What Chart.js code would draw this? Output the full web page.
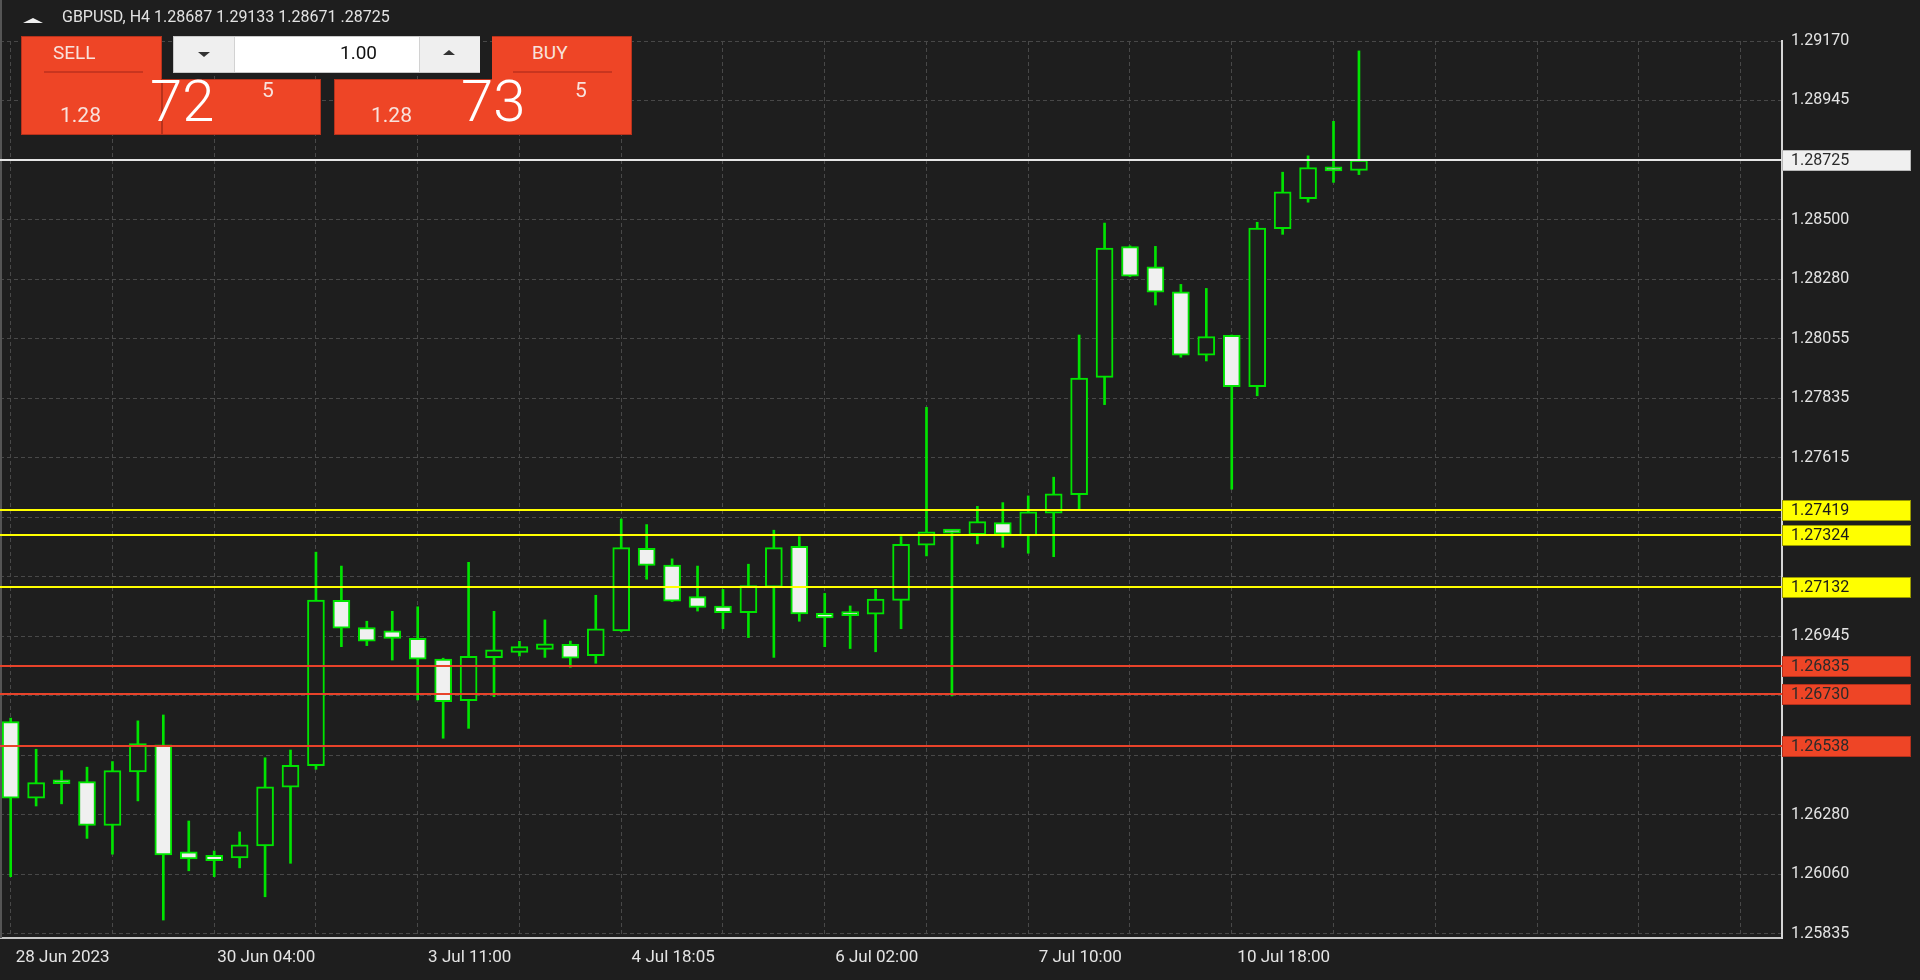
<!DOCTYPE html>
<html>
<head>
<meta charset="utf-8">
<title>GBPUSD H4</title>
<script src="https://cdn.jsdelivr.net/npm/chart.js@4.4.0/dist/chart.umd.min.js"></script>
<style>
  html, body { margin: 0; padding: 0; background: #1e1e1e; overflow: hidden; }
  #wrap { position: relative; width: 1920px; height: 980px; font-family: Roboto, sans-serif; }
  #chart { position: absolute; left: 0; top: 0; }
  .abs { position: absolute; }
  .txt { position: absolute; white-space: nowrap; }
  .tri-up { width: 0; height: 0; border-left: 10px solid transparent; border-right: 10px solid transparent; border-bottom: 5px solid #f0f0f0; }
  .red { background: #ee4526; box-sizing: border-box; border: 1px solid #b8321c; }
  .light { color: #f8e2dc; }
</style>
</head>
<body>
<div id="wrap">
  <canvas id="chart" width="1920" height="980"></canvas>

  <div class="abs tri-up" style="left:23px;top:18px"></div>
  <div class="txt" style="left:62px;top:8px;font-size:16px;line-height:18px;color:#e2e2e2">GBPUSD, H4 1.28687 1.29133 1.28671 .28725</div>

  <!-- sell block -->
  <div class="abs red" style="left:21px;top:36px;width:141px;height:99px"></div>
  <div class="abs red" style="left:162px;top:79px;width:159px;height:56px"></div>
  <div class="txt light" style="left:53px;top:43px;font-size:19px;line-height:19px">SELL</div>
  <div class="abs" style="left:44px;top:71px;width:99px;height:2px;background:#c9351f"></div>
  <div class="txt light" style="left:60px;top:105px;font-size:21px;line-height:21px">1.28</div>
  <div class="txt" style="left:150px;top:72px;font-size:58px;line-height:58px;font-weight:300;color:#fff">72</div>
  <div class="txt light" style="left:262px;top:80px;font-size:21px;line-height:21px">5</div>

  <!-- lot size -->
  <div class="abs" style="left:173px;top:36px;width:307px;height:37px;background:#fff;box-sizing:border-box;border:1px solid #c8c8c8"></div>
  <div class="abs" style="left:174px;top:37px;width:60px;height:35px;background:#efefef;border-right:1px solid #d2d2d2"></div>
  <div class="abs" style="left:419px;top:37px;width:60px;height:35px;background:#efefef;border-left:1px solid #d2d2d2"></div>
  <div class="abs" style="left:198px;top:52px;width:0;height:0;border-left:6px solid transparent;border-right:6px solid transparent;border-top:5px solid #333"></div>
  <div class="abs" style="left:443px;top:50px;width:0;height:0;border-left:6px solid transparent;border-right:6px solid transparent;border-bottom:5px solid #333"></div>
  <div class="txt" style="left:300px;width:77px;text-align:right;top:43px;font-size:19px;line-height:19px;color:#111">1.00</div>

  <!-- buy block -->
  <div class="abs red" style="left:334px;top:79px;width:159px;height:56px;border-right:none"></div>
  <div class="abs red" style="left:492px;top:36px;width:140px;height:99px;border-left:none"></div>
  <div class="abs red" style="left:492px;top:80px;width:2px;height:54px;border:none"></div>
  <div class="txt light" style="left:532px;top:43px;font-size:19px;line-height:19px">BUY</div>
  <div class="abs" style="left:513px;top:71px;width:99px;height:2px;background:#c9351f"></div>
  <div class="txt light" style="left:371px;top:105px;font-size:21px;line-height:21px">1.28</div>
  <div class="txt" style="left:461px;top:72px;font-size:58px;line-height:58px;font-weight:300;color:#fff">73</div>
  <div class="txt light" style="left:575px;top:80px;font-size:21px;line-height:21px">5</div>
</div>

<script>
// H4 candles, oldest first
const opens = [1.26628, 1.26342, 1.26402, 1.26404, 1.26240, 1.26440, 1.26541, 1.26142, 1.26129, 1.26119,
  1.26164, 1.26383, 1.26464, 1.27081, 1.26979, 1.26967, 1.26939, 1.26862, 1.26706, 1.26867,
  1.26887, 1.26898, 1.26917, 1.26874, 1.26967, 1.27275, 1.27213, 1.27095, 1.27060, 1.27035,
  1.27130, 1.27283, 1.27033, 1.27030, 1.27029, 1.27081, 1.27287, 1.27338, 1.27326, 1.27371,
  1.27322, 1.27407, 1.27476, 1.27914, 1.28402, 1.28327, 1.28233, 1.27997, 1.28071, 1.27879,
  1.28469, 1.28581, 1.28696, 1.28687];
const highs = [1.26641, 1.26525, 1.26445, 1.26458, 1.26479, 1.26631, 1.26653, 1.26257, 1.26145, 1.26216,
  1.26493, 1.26522, 1.27261, 1.27209, 1.27003, 1.27040, 1.27057, 1.26865, 1.27223, 1.27040,
  1.26928, 1.27008, 1.26929, 1.27100, 1.27385, 1.27364, 1.27236, 1.27209, 1.27122, 1.27216,
  1.27343, 1.27319, 1.27107, 1.27060, 1.27122, 1.27319, 1.27802, 1.27340, 1.27432, 1.27446,
  1.27471, 1.27541, 1.28072, 1.28490, 1.28405, 1.28403, 1.28261, 1.28246, 1.28072, 1.28493,
  1.28680, 1.28741, 1.28870, 1.29133];
const lows = [1.26049, 1.26313, 1.26321, 1.26192, 1.26133, 1.26332, 1.25887, 1.26071, 1.26049, 1.26082,
  1.25974, 1.26099, 1.26450, 1.26908, 1.26912, 1.26858, 1.26709, 1.26566, 1.26603, 1.26721,
  1.26873, 1.26868, 1.26831, 1.26846, 1.26965, 1.27160, 1.27076, 1.27041, 1.26975, 1.26942,
  1.26868, 1.27003, 1.26908, 1.26901, 1.26889, 1.26975, 1.27247, 1.26724, 1.27292, 1.27279,
  1.27257, 1.27244, 1.27418, 1.27812, 1.28290, 1.28184, 1.27989, 1.27975, 1.27496, 1.27845,
  1.28448, 1.28568, 1.28642, 1.28671];
const closes = [1.26342, 1.26400, 1.26396, 1.26240, 1.26445, 1.26546, 1.26130, 1.26115, 1.26109, 1.26168,
  1.26385, 1.26465, 1.27082, 1.26977, 1.26929, 1.26939, 1.26861, 1.26703, 1.26872, 1.26896,
  1.26908, 1.26919, 1.26865, 1.26975, 1.27278, 1.27211, 1.27078, 1.27055, 1.27035, 1.27136,
  1.27278, 1.27030, 1.27015, 1.27024, 1.27086, 1.27290, 1.27337, 1.27332, 1.27375, 1.27328,
  1.27412, 1.27479, 1.27911, 1.28397, 1.28292, 1.28232, 1.27997, 1.28066, 1.27879, 1.28471,
  1.28607, 1.28697, 1.28685, 1.28725];

const yTickValues = [1.29170, 1.28948, 1.28725, 1.28503, 1.28281, 1.28058, 1.27836, 1.27614,
  1.27392, 1.27170, 1.26947, 1.26725, 1.26503, 1.26281, 1.26059, 1.25836];
const yTickLabels = ['1.29170', '1.28945', '', '1.28500', '1.28280', '1.28055', '1.27835', '1.27615',
  '', '', '1.26945', '', '', '1.26280', '1.26060', '1.25835'];

const xGridIdx = [0, 4, 8, 12, 16, 20, 24, 28, 32, 36, 40, 44, 48, 52, 56, 60, 64, 68];
const xLabelIdx = [0, 8, 16, 24, 32, 40, 48];
const xLabels = ['28 Jun 2023', '30 Jun 04:00', '3 Jul 11:00', '4 Jul 18:05', '6 Jul 02:00', '7 Jul 10:00', '10 Jul 18:00'];

const levelValues = [1.28725, 1.27419, 1.27324, 1.27132, 1.26835, 1.26730, 1.26538];
const levelKinds = ['last', 'upper', 'upper', 'upper', 'lower', 'lower', 'lower'];

// styles
const GREEN = '#00e400';
const BULL_FILL = '#1e1e1e';
const BEAR_FILL = '#f0f0f0';
const GRID = '#484848';
const TEXT = '#e4e4e4';
const levelStyle = {
  last:  { line: '#e6e6e6', box: '#f0f0f0', edge: '#b8b8b8', text: '#2a2a2a' },
  upper: { line: '#ffff00', box: '#ffff00', edge: '#9a9a00', text: '#1a1a1a' },
  lower: { line: '#e8432a', box: '#ee4526', edge: '#b3301c', text: '#2a2a2a' }
};

const bodyData = opens.map((o, i) => ({ x: i, y: [o, closes[i]] }));
const wickData = lows.map((l, i) => ({ x: i, y: [l, highs[i]] }));
const bodyFill = opens.map((o, i) => (closes[i] < o ? BEAR_FILL : BULL_FILL));

const levels = {
  id: 'levels',
  afterDraw(chart) {
    const { ctx, chartArea } = chart;
    const y = chart.scales.y;
    ctx.save();
    // left frame line
    ctx.strokeStyle = '#555';
    ctx.lineWidth = 2;
    ctx.beginPath();
    ctx.moveTo(1, 0);
    ctx.lineTo(1, chartArea.bottom);
    ctx.stroke();

    ctx.font = '16px Roboto';
    ctx.textBaseline = 'middle';
    levelValues.forEach((v, i) => {
      const st = levelStyle[levelKinds[i]];
      const py = Math.round(y.getPixelForValue(v));
      ctx.strokeStyle = st.line;
      ctx.lineWidth = 2;
      ctx.beginPath();
      ctx.moveTo(chartArea.left, py);
      ctx.lineTo(chartArea.right, py);
      ctx.stroke();

      ctx.fillStyle = st.box;
      ctx.fillRect(chartArea.right, py - 10, 129, 21);
      ctx.strokeStyle = st.edge;
      ctx.lineWidth = 1;
      ctx.strokeRect(chartArea.right + 0.5, py - 9.5, 128, 20);
      ctx.fillStyle = st.text;
      ctx.fillText(v.toFixed(5), chartArea.right + 9, py + 1);
    });
    ctx.restore();
  }
};

Chart.defaults.font.family = 'Roboto';

new Chart(document.getElementById('chart'), {
  type: 'bar',
  data: {
    datasets: [{
      label: 'body',
      data: bodyData,
      backgroundColor: bodyFill,
      borderColor: GREEN,
      borderWidth: 2,
      borderSkipped: false,
      barThickness: 17,
      minBarLength: 4,
      grouped: false,
      order: 1
    }, {
      label: 'wick',
      data: wickData,
      backgroundColor: GREEN,
      borderWidth: 0,
      barThickness: 2,
      grouped: false,
      order: 2
    }]
  },
  options: {
    responsive: false,
    animation: false,
    devicePixelRatio: 1,
    layout: { padding: { top: 41, left: 0, right: 0, bottom: 0 } },
    plugins: { legend: { display: false }, tooltip: { enabled: false } },
    scales: {
      x: {
        type: 'linear',
        min: -0.42,
        max: 69.63,
        offset: false,
        afterBuildTicks: s => { s.ticks = xGridIdx.map(v => ({ value: v })); },
        afterFit: s => { s.height = 42; s.paddingLeft = 0; s.paddingRight = 0; },
        grid: { color: GRID, lineWidth: 1, drawTicks: false, offset: false },
        border: { display: true, color: '#c8c8c8', width: 2, dash: [4, 3] },
        ticks: {
          color: TEXT,
          font: { size: 17 },
          padding: 10,
          labelOffset: 52,
          maxRotation: 0,
          autoSkip: false,
          callback: v => {
            const k = xLabelIdx.indexOf(v);
            return k >= 0 ? xLabels[k] : '';
          }
        }
      },
      y: {
        type: 'linear',
        position: 'right',
        min: 1.25820,
        max: 1.29170,
        afterBuildTicks: s => { s.ticks = yTickValues.map(v => ({ value: v })); },
        afterFit: s => { s.width = 138; s.paddingTop = 0; s.paddingBottom = 0; },
        grid: { color: GRID, lineWidth: 1, drawTicks: false },
        border: { display: true, color: '#d6d6d6', width: 2, dash: [4, 3] },
        ticks: {
          color: TEXT,
          font: { size: 16 },
          padding: 9,
          autoSkip: false,
          callback: (v, i) => yTickLabels[i]
        }
      }
    }
  },
  plugins: [levels]
});
</script>
</body>
</html>
